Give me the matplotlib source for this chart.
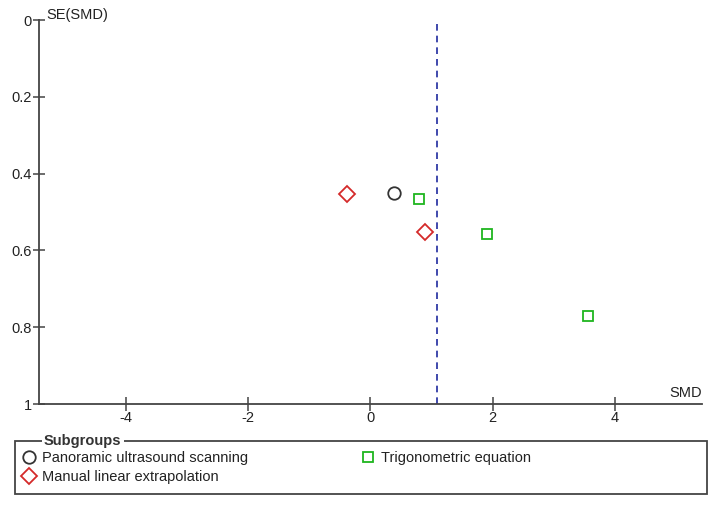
import matplotlib.pyplot as plt
from matplotlib.lines import Line2D
from matplotlib.patches import Rectangle

plt.rcParams['font.family'] = ['Liberation Sans', 'DejaVu Sans']

# Study estimates
pano_smd = [0.38]
pano_se = [0.451]
manual_smd = [-0.38, 0.90]
manual_se = [0.453, 0.552]
trig_smd = [0.80, 1.90, 3.56]
trig_se = [0.466, 0.557, 0.771]
pooled_smd = 1.09

x_ticks = [-4, -2, 0, 2, 4]
y_ticks = [0, 0.2, 0.4, 0.6, 0.8, 1]
y_labels = ["0", "0.2", "0.4", "0.6", "0.8", "1"]

FS = 10.5
TXT = "#222222"

fig = plt.figure(figsize=(7.2, 5.14), dpi=100)
ax = fig.add_axes([0.054, 0.214, 0.921, 0.747])

circle_style = dict(linestyle="none", marker="o", markersize=9,
                    markerfacecolor="none", markeredgecolor="#333333",
                    markeredgewidth=1.3)
diamond_style = dict(linestyle="none", marker="D", markersize=8,
                     markerfacecolor="none", markeredgecolor="#d42a2a",
                     markeredgewidth=1.3)
square_style = dict(linestyle="none", marker="s", markersize=7.5,
                    markerfacecolor="none", markeredgecolor="#1fb51f",
                    markeredgewidth=1.3)

ax.plot(pano_smd, pano_se, **circle_style)
ax.plot(manual_smd, manual_se, **diamond_style)
ax.plot(trig_smd, trig_se, **square_style)

ax.axvline(pooled_smd, color="#1f2a9e", linestyle=(0, (4, 3)), linewidth=1.2)

ax.set_xlim(-5.42, 5.42)
ax.set_ylim(1, 0)
ax.set_xticks(x_ticks)
ax.set_xticklabels([str(t) for t in x_ticks])
ax.set_yticks(y_ticks)
ax.set_yticklabels(y_labels)

for side in ["top", "right"]:
    ax.spines[side].set_visible(False)
for side in ["left", "bottom"]:
    ax.spines[side].set_color("#444444")
    ax.spines[side].set_linewidth(1.3)

ax.tick_params(axis="x", direction="inout", length=10, width=1.1,
               color="#444444", labelsize=FS, labelcolor=TXT, pad=0)
ax.tick_params(axis="y", direction="inout", length=8, width=1.1,
               color="#444444", labelsize=FS, labelcolor=TXT, pad=1)

ax.text(0.012, 0.995, "SE(SMD)", transform=ax.transAxes, fontsize=FS,
        color=TXT, ha="left", va="bottom")
ax.text(1.0, 0.01, "SMD", transform=ax.transAxes, fontsize=FS,
        color=TXT, ha="right", va="bottom")

# Subgroups legend box
box = Rectangle((15 / 720, 1 - 494 / 514), 692 / 720, 53 / 514,
                transform=fig.transFigure, fill=False, edgecolor="#444444",
                linewidth=1.3)
fig.patches.append(box)
fig.text(44 / 720, 1 - 441 / 514, "Subgroups", fontsize=FS,
         fontweight="bold", color="#333333", ha="left", va="center",
         bbox=dict(facecolor="white", edgecolor="none", pad=1.5))

left_handles = [
    Line2D([], [], label="Panoramic ultrasound scanning", **circle_style),
    Line2D([], [], label="Manual linear extrapolation", **diamond_style),
]
right_handles = [
    Line2D([], [], label="Trigonometric equation", **square_style),
]
legend_kw = dict(frameon=False, fontsize=FS, loc="upper left",
                 handlelength=1.0, handletextpad=0.35, labelspacing=0.37,
                 borderpad=0, borderaxespad=0, labelcolor=TXT)
fig.legend(handles=left_handles, bbox_to_anchor=(22 / 720, 1 - 451 / 514),
           **legend_kw)
fig.legend(handles=right_handles, bbox_to_anchor=(361 / 720, 1 - 451 / 514),
           **legend_kw)

fig.savefig("out.png", dpi=100)
